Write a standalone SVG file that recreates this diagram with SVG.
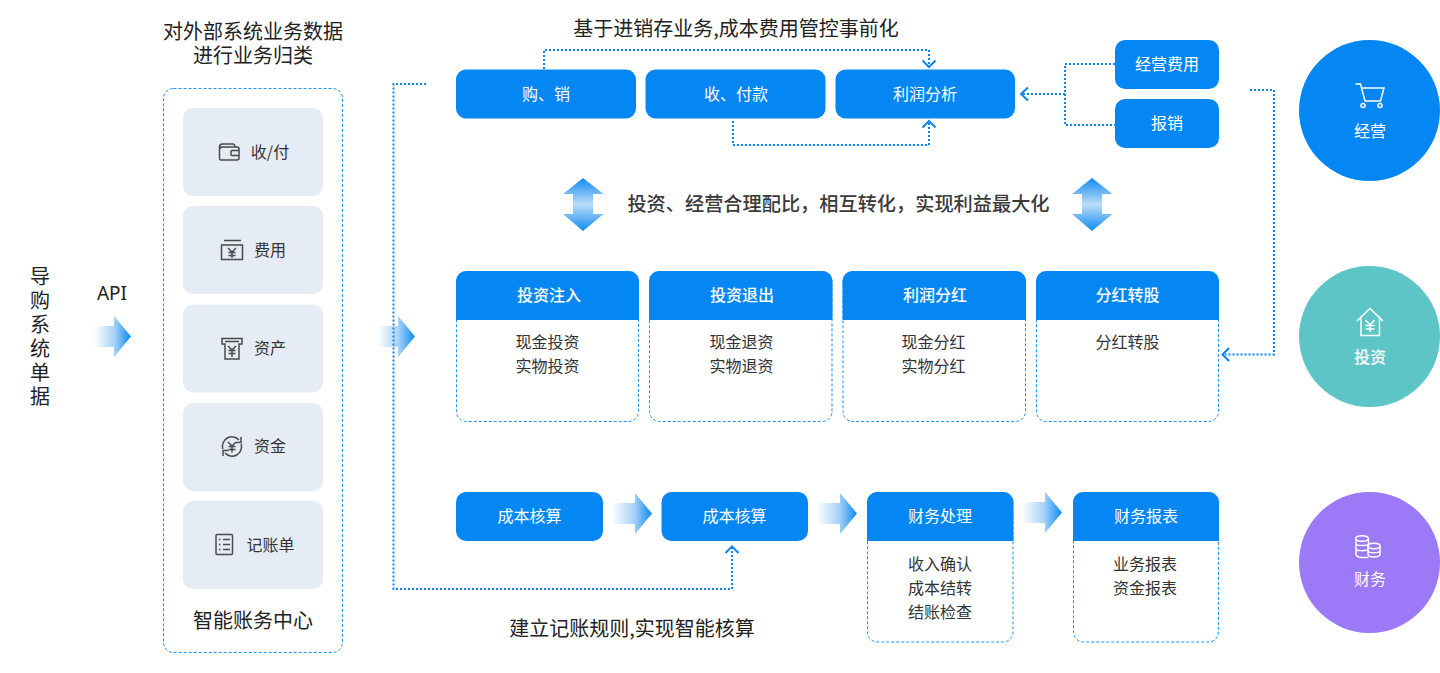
<svg xmlns="http://www.w3.org/2000/svg" width="1440" height="673" viewBox="0 0 1440 673">
<style>
text{font-family:"Noto Sans CJK SC","Noto Sans",sans-serif;text-anchor:middle;dominant-baseline:central}
.t20{font-size:20px;fill:#222}
.t16{font-size:16px;fill:#333}
.w{font-size:16px;fill:#fff}
.wb{font-size:16px;fill:#fff;font-weight:500}
.box{fill:#0587f3}
.item{fill:#e6ecf5}
.dash{fill:none;stroke:#1f92f5;stroke-width:1;stroke-dasharray:3 2}
.dot{fill:none;stroke:#0a86f0;stroke-width:2;stroke-dasharray:2 2}
.chev{fill:none;stroke:#0a86f0;stroke-width:2}
.ic{fill:none;stroke:#4a4a4a;stroke-width:1.5}
.icw{fill:none;stroke:#fff;stroke-width:1.5}
</style>
<defs>
<linearGradient id="ga" x1="0" y1="0" x2="1" y2="0"><stop offset="0" stop-color="#fff"/><stop offset="0.55" stop-color="#a8d2f8"/><stop offset="1" stop-color="#0a8af2"/></linearGradient>
<linearGradient id="gd" x1="0" y1="0" x2="0" y2="1"><stop offset="0" stop-color="#0f8bf2"/><stop offset="0.5" stop-color="#bcdcf8"/><stop offset="1" stop-color="#0f8bf2"/></linearGradient>
<path id="arrow" d="M0 10H20V0L37 20.500L20 41V31H0Z" fill="url(#ga)"/>
<path id="arrow2" d="M0 10H23V0L40 20.500L23 41V31H0Z" fill="url(#ga)"/>
<path id="darrow" d="M20 0L40.500 16H30V36H40.500L20 53L0 36H10V16H0Z" fill="url(#gd)"/>
</defs>

<g id="source">
<text class="t20" x="40" y="266" style="writing-mode:vertical-rl;text-anchor:start;letter-spacing:4px">导购系统单据</text>
</g>
<text class="t20" x="112" y="293" style="font-family:'Noto Sans',sans-serif;font-size:19px">API</text>
<use href="#arrow" x="94" y="316"/>
<use href="#arrow" x="378" y="316"/>

<text class="t20" x="253" y="30">对外部系统业务数据</text>
<text class="t20" x="253" y="54">进行业务归类</text>
<g id="panel">
<rect class="dash" x="163.500" y="88.500" width="179" height="564" rx="10"/>
<text class="t20" x="253" y="619">智能账务中心</text>
</g>
<g id="item-shoufu">
<rect class="item" x="183" y="108" width="140" height="88" rx="10"/>
<path class="ic" d="M219.500 150a3 3 0 0 1 3-3H237a2 2 0 0 1 2 2v9a2 2 0 0 1-2 2H221a1.500 1.500 0 0 1-1.500-1.500ZM219.500 150v-3a3 3 0 0 1 3-3h10a2 2 0 0 1 2 3M239 150.500h-7a1 1 0 0 0-1 1v3a1 1 0 0 0 1 1h7"/>
<text class="t16" x="270" y="151">收/付</text>
</g>
<g id="item-feiyong">
<rect class="item" x="183" y="206" width="140" height="88" rx="10"/>
<path class="ic" d="M224 240.500h17M221.500 245h21v14.500h-21ZM228 248l4 4 4-4M232 252v6M228.500 252.500h7M228.500 255.500h7"/>
<text class="t16" x="270" y="249">费用</text>
</g>
<g id="item-zichan">
<rect class="item" x="183" y="304.500" width="140" height="88" rx="10"/>
<path class="ic" d="M222 338.500h20v5.500h-3V359h-14v-15h-3ZM225 341.500h14M228 346l4 4 4-4M232 350v7M228.500 350.500h7M228.500 353.500h7"/>
<text class="t16" x="270" y="347">资产</text>
</g>
<g id="item-zijin">
<rect class="item" x="183" y="403" width="140" height="88" rx="10"/>
<path class="ic" d="M222.800 449a9.500 9.500 0 0 1 16.200-9M241 437v5.500h-5.500M241.200 444a9.500 9.500 0 0 1-16.200 9M223 456v-5.500h5.500M228 442l4 4 4-4M232 446v6.500M228.500 446.500h7M228.500 449.500h7"/>
<text class="t16" x="270" y="445">资金</text>
</g>
<g id="item-jizhang">
<rect class="item" x="183" y="501" width="140" height="88" rx="10"/>
<rect class="ic" x="216" y="534.500" width="16.500" height="20" rx="1"/>
<path class="ic" d="M219 539.500h1.500M223 539.500h7M219 544.500h1.500M223 544.500h7M219 549.500h1.500M223 549.500h7"/>
<text class="t16" x="270.500" y="544">记账单</text>
</g>

<text class="t20" x="736" y="27">基于进销存业务,成本费用管控事前化</text>
<g id="n-gouxiao"><rect class="box" x="456" y="69.500" width="180" height="49" rx="10"/><text class="w" x="546" y="93">购、销</text></g>
<g id="n-shoufu"><rect class="box" x="645.500" y="69.500" width="180" height="49" rx="10"/><text class="w" x="736" y="93">收、付款</text></g>
<g id="n-lirun"><rect class="box" x="835.500" y="69.500" width="179.500" height="49" rx="10"/><text class="w" x="925" y="93">利润分析</text></g>
<g id="n-jingying"><rect class="box" x="1115" y="40" width="104" height="49" rx="10"/><text class="w" x="1167" y="63">经营费用</text></g>
<g id="n-baoxiao"><rect class="box" x="1115" y="99" width="104" height="49" rx="10"/><text class="w" x="1167" y="122">报销</text></g>

<use href="#darrow" x="563" y="178"/>
<use href="#darrow" x="1072" y="178"/>
<text x="838.500" y="203" style="font-size:19.200px;font-weight:500;fill:#3a3a3a">投资、经营合理配比，相互转化，实现利益最大化</text>

<g id="c-zhuru">
<rect class="dash" x="456.500" y="271.500" width="182" height="150" rx="10"/>
<path class="box" d="M456 320V281a10 10 0 0 1 10-10h163a10 10 0 0 1 10 10v39Z"/>
<text class="wb" x="549" y="294">投资注入</text>
<text class="t16" x="547.500" y="341">现金投资</text><text class="t16" x="547.500" y="365">实物投资</text>
</g>
<g id="c-tuichu">
<rect class="dash" x="649.500" y="271.500" width="182.500" height="150" rx="10"/>
<path class="box" d="M649 320V281a10 10 0 0 1 10-10h163.500a10 10 0 0 1 10 10v39Z"/>
<text class="wb" x="742" y="294">投资退出</text>
<text class="t16" x="741.500" y="341">现金退资</text><text class="t16" x="741.500" y="365">实物退资</text>
</g>
<g id="c-fenhong">
<rect class="dash" x="843" y="271.500" width="182.500" height="150" rx="10"/>
<path class="box" d="M842.500 320V281a10 10 0 0 1 10-10H1016a10 10 0 0 1 10 10v39Z"/>
<text class="wb" x="935" y="294">利润分红</text>
<text class="t16" x="933.500" y="341">现金分红</text><text class="t16" x="933.500" y="365">实物分红</text>
</g>
<g id="c-zhuangu">
<rect class="dash" x="1036.500" y="271.500" width="182" height="150" rx="10"/>
<path class="box" d="M1036 320V281a10 10 0 0 1 10-10h163a10 10 0 0 1 10 10v39Z"/>
<text class="wb" x="1127.500" y="294">分红转股</text>
<text class="t16" x="1127.500" y="341">分红转股</text>
</g>

<g id="n-hesuan1"><rect class="box" x="456" y="492" width="147" height="49" rx="10"/><text class="w" x="529.500" y="515">成本核算</text></g>
<use href="#arrow2" x="612" y="493"/>
<g id="n-hesuan2"><rect class="box" x="661.500" y="492" width="146.500" height="49" rx="10"/><text class="w" x="734.500" y="515">成本核算</text></g>
<use href="#arrow2" x="817" y="493"/>
<g id="c-chuli">
<rect class="dash" x="867.500" y="492.500" width="145.500" height="149.500" rx="10"/>
<path class="box" d="M867 541V502a10 10 0 0 1 10-10h126.500a10 10 0 0 1 10 10v39Z"/>
<text class="w" x="940" y="515">财务处理</text>
<text class="t16" x="940" y="563">收入确认</text><text class="t16" x="940" y="587">成本结转</text><text class="t16" x="940" y="611">结账检查</text>
</g>
<use href="#arrow2" x="1022" y="492"/>
<g id="c-baobiao">
<rect class="dash" x="1073.500" y="492.500" width="145" height="149.500" rx="10"/>
<path class="box" d="M1073 541V502a10 10 0 0 1 10-10h126a10 10 0 0 1 10 10v39Z"/>
<text class="w" x="1146" y="515">财务报表</text>
<text class="t16" x="1145" y="563">业务报表</text><text class="t16" x="1145" y="587">资金报表</text>
</g>
<text class="t20" x="632" y="627">建立记账规则,实现智能核算</text>

<g id="connectors">
<path class="dot" d="M426 84H393.500V589H732V548"/>
<path class="chev" d="M725.500 553L732 546.500L738.500 553"/>
<path class="dot" d="M544 69V50H929V66"/>
<path class="chev" d="M922.500 60.500L929 67L935.500 60.500"/>
<path class="dot" d="M733 121V145H929V123"/>
<path class="chev" d="M922.500 127.500L929 121L935.500 127.500"/>
<path class="dot" d="M1115 64H1065V125H1115M1065 94H1023"/>
<path class="chev" d="M1028 87.500L1021 94L1028 100.500"/>
<path class="dot" d="M1250 90H1274V354.500H1225"/>
<path class="chev" d="M1229 348L1222.500 354.500L1229 361"/>
</g>

<g id="c-jingying">
<circle cx="1369.500" cy="110.500" r="70.500" fill="#0587f3"/>
<path class="icw" d="M1355.500 84h5l4.500 17h15.500l3.500-13h-22"/>
<circle class="icw" cx="1363" cy="105.500" r="2"/><circle class="icw" cx="1380" cy="105.500" r="2"/>
<text class="w" x="1370" y="130">经营</text>
</g>
<g id="c-touzi">
<circle cx="1369.500" cy="336.500" r="70.500" fill="#5ec5c6"/>
<path class="icw" d="M1357 321L1370 308.500L1383 321M1361 316V335.500H1379.500V316M1365.500 320l4.500 5 4.500-5M1370 325v7M1365.500 325.500h9M1365.500 329h9"/>
<text class="wb" x="1370" y="356">投资</text>
</g>
<g id="c-caiwu">
<circle cx="1369.500" cy="562.500" r="70.500" fill="#9b79f7"/>
<path class="icw" d="M1356 539v15c0 2 2.500 3.500 6.500 3.500h6M1368.500 539v9M1356 544c0 2 12.500 2 12.500 0M1356 549c0 2 8 2 12 1"/>
<ellipse class="icw" cx="1362" cy="538.500" rx="6.300" ry="2.800"/>
<ellipse class="icw" cx="1374" cy="546" rx="6" ry="2.700"/>
<path class="icw" d="M1368 546v8c0 4 12 4 12 0v-8M1368 550.500c0 3 12 3 12 0"/>
<text class="w" x="1370" y="578">财务</text>
</g>
</svg>
